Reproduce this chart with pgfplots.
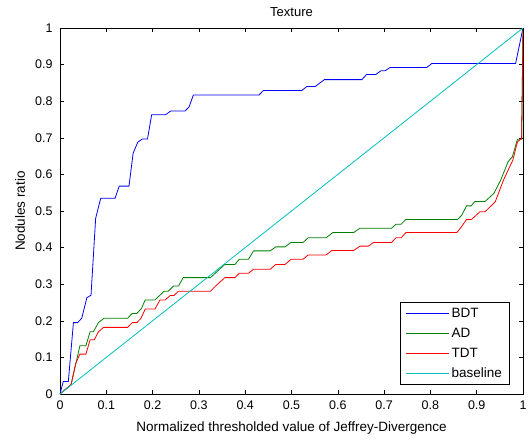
\documentclass[border=0pt]{standalone}
\usepackage{fontspec}
\setmainfont{Liberation Sans}
\usepackage{pgfplots}
\pgfplotsset{compat=1.18}
\definecolor{mblue}{rgb}{0,0,1}
\definecolor{mgreen}{rgb}{0,0.5,0}
\definecolor{mred}{rgb}{1,0,0}
\definecolor{mcyan}{rgb}{0,0.75,0.75}
\begin{document}
\begin{tikzpicture}
\begin{axis}[
  scale only axis,
  width=463pt, height=366pt,
  xmin=0, xmax=1, ymin=0, ymax=1,
  xtick={0,0.1,...,1.01}, ytick={0,0.1,...,1.01},
  xticklabels={0,0.1,0.2,0.3,0.4,0.5,0.6,0.7,0.8,0.9,1},
  yticklabels={0,0.1,0.2,0.3,0.4,0.5,0.6,0.7,0.8,0.9,1},
  tick align=inside, major tick length=4pt,
  tick style={black, line width=0.5pt},
  axis line style={black, line width=0.6pt},
  /pgf/number format/assume math mode=true,
  ticklabel style={font=\fontsize{12.5}{14}\selectfont},
  xticklabel style={yshift=-3pt},
  yticklabel style={xshift=-4pt},
  label style={font=\fontsize{13.5}{15}\selectfont},
  every axis title shift=0pt,
  title style={font=\fontsize{13}{15}\selectfont, at={(axis description cs:0.5,1.044)}, anchor=center, yshift=0pt},
  xlabel style={at={(axis description cs:0.5,-0.093)}, anchor=center, yshift=0pt},
  ylabel style={at={(axis description cs:-0.0864,0.5)}, anchor=center, xshift=0pt, yshift=0pt},
  title={Texture},
  xlabel={Normalized thresholded value of Jeffrey-Divergence},
  ylabel={Nodules ratio},
  legend style={at={(axis cs:1,0)}, anchor=south east, xshift=-14pt, yshift=9.5pt,
    fill=white, font=\fontsize{13.5}{15}\selectfont,
    row sep=5pt, inner xsep=5pt, inner ysep=3.5pt, cells={anchor=west}},
  legend image code/.code={\draw[#1, line width=1pt] (0pt,0pt) -- (43pt,0pt);},
  legend cell align=left,
]
\addplot[color=mblue, line width=0.8pt] coordinates {
(0,0) (0.007,0.034) (0.018,0.034) (0.029,0.195) (0.038,0.195) (0.047,0.207) (0.058,0.263) (0.067,0.27) (0.077,0.48) (0.088,0.535) (0.119,0.535) (0.128,0.568) (0.149,0.568) (0.158,0.658) (0.168,0.688) (0.178,0.697) (0.189,0.697) (0.198,0.763) (0.228,0.763) (0.239,0.773) (0.27,0.773) (0.279,0.785) (0.288,0.817) (0.43,0.817) (0.439,0.829) (0.522,0.829) (0.533,0.840) (0.551,0.840) (0.571,0.859) (0.652,0.859) (0.662,0.873) (0.682,0.873) (0.693,0.883) (0.702,0.883) (0.713,0.892) (0.792,0.892) (0.803,0.903) (0.984,0.903) (1,1)
};
\addlegendentry{BDT}
\addplot[color=mgreen, line width=0.8pt] coordinates {
(0,0) (0.024,0.026) (0.043,0.132) (0.056,0.132) (0.065,0.170) (0.072,0.170) (0.083,0.195) (0.095,0.207) (0.146,0.207) (0.156,0.220) (0.166,0.220) (0.176,0.234) (0.184,0.257) (0.205,0.257) (0.225,0.281) (0.234,0.281) (0.245,0.295) (0.256,0.295) (0.266,0.318) (0.325,0.318) (0.356,0.354) (0.378,0.354) (0.387,0.368) (0.407,0.368) (0.418,0.391) (0.454,0.391) (0.466,0.402) (0.486,0.402) (0.499,0.414) (0.525,0.414) (0.536,0.427) (0.575,0.427) (0.589,0.441) (0.634,0.441) (0.648,0.453) (0.716,0.453) (0.726,0.464) (0.737,0.464) (0.747,0.477) (0.859,0.477) (0.868,0.489) (0.878,0.514) (0.888,0.514) (0.896,0.526) (0.918,0.526) (0.937,0.548) (0.952,0.585) (0.968,0.635) (0.977,0.648) (0.988,0.696) (0.997,0.696) (1,1)
};
\addlegendentry{AD}
\addplot[color=mred, line width=0.8pt] coordinates {
(0,0) (0.024,0.026) (0.034,0.084) (0.043,0.109) (0.056,0.109) (0.065,0.148) (0.074,0.148) (0.083,0.170) (0.094,0.182) (0.146,0.182) (0.156,0.195) (0.166,0.195) (0.175,0.207) (0.184,0.232) (0.205,0.232) (0.216,0.257) (0.227,0.257) (0.238,0.269) (0.246,0.269) (0.256,0.281) (0.325,0.281) (0.336,0.295) (0.356,0.318) (0.378,0.318) (0.387,0.330) (0.407,0.330) (0.418,0.341) (0.454,0.341) (0.466,0.354) (0.486,0.354) (0.499,0.368) (0.525,0.368) (0.536,0.380) (0.575,0.380) (0.587,0.392) (0.634,0.392) (0.648,0.404) (0.666,0.404) (0.677,0.414) (0.716,0.414) (0.726,0.427) (0.737,0.427) (0.747,0.441) (0.857,0.441) (0.866,0.455) (0.878,0.477) (0.889,0.477) (0.907,0.498) (0.918,0.498) (0.94,0.525) (0.958,0.585) (0.978,0.639) (0.988,0.689) (0.997,0.698) (1,1)
};
\addlegendentry{TDT}
\addplot[color=mcyan, line width=0.8pt] coordinates {(0,0) (1,1)};
\addlegendentry{baseline}
\end{axis}
\pgfresetboundingbox
\path ([shift={(-60pt,-46pt)}]current axis.south west) rectangle ++(532pt,440pt);
\end{tikzpicture}
\end{document}
